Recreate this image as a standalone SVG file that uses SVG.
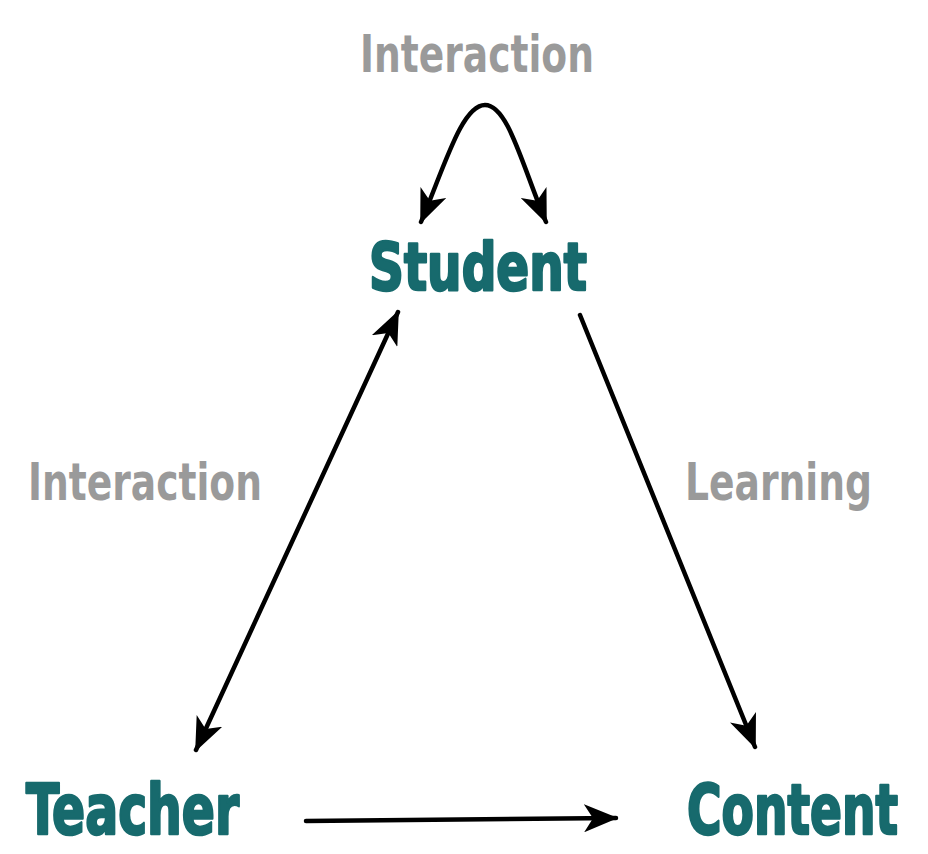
<svg xmlns="http://www.w3.org/2000/svg" width="928" height="854" viewBox="0 0 928 854">
<defs>
<style>
.node{font-family:"Liberation Sans Narrow","DejaVu Sans Condensed","Liberation Sans",sans-serif;font-weight:bold;fill:#176a6d;stroke:#176a6d;stroke-width:2.5;stroke-linejoin:round;}
.lbl{font-family:"Liberation Sans Narrow","DejaVu Sans Condensed","Liberation Sans",sans-serif;font-weight:bold;fill:#9a9a9a;}
.conn{fill:none;stroke:#000;stroke-width:4.5;stroke-linecap:round;}
</style>
<marker id="ah" markerUnits="userSpaceOnUse" viewBox="0 0 34 28" markerWidth="34" markerHeight="28" refX="32" refY="14" orient="auto-start-reverse">
<path d="M0,0 L34,14 L0,28 L9,14 z" fill="#000"/>
</marker>
</defs>
<rect width="928" height="854" fill="#fff"/>
<g id="connectors">
<path class="conn" d="M421,222 C445,165 462,105 485,105 C508,105 522,165 546,222" marker-start="url(#ah)" marker-end="url(#ah)"/>
<line class="conn" x1="398" y1="312" x2="196" y2="750" marker-start="url(#ah)" marker-end="url(#ah)"/>
<line class="conn" x1="580" y1="315" x2="755" y2="747" marker-end="url(#ah)"/>
<line class="conn" x1="306" y1="821" x2="616" y2="818" marker-end="url(#ah)"/>
</g>
<g id="label-top"><text class="lbl" x="360" y="72" font-size="52" textLength="234" lengthAdjust="spacingAndGlyphs">Interaction</text></g>
<g id="label-left"><text class="lbl" x="28" y="500" font-size="52" textLength="234" lengthAdjust="spacingAndGlyphs">Interaction</text></g>
<g id="label-right"><text class="lbl" x="685" y="500" font-size="52" textLength="187" lengthAdjust="spacingAndGlyphs">Learning</text></g>
<g id="student"><text class="node" x="369" y="290" font-size="66" textLength="218" lengthAdjust="spacingAndGlyphs">Student</text></g>
<g id="teacher"><text class="node" x="26" y="834" font-size="70" textLength="213" lengthAdjust="spacingAndGlyphs">Teacher</text></g>
<g id="content"><text class="node" x="687" y="834" font-size="70" textLength="211" lengthAdjust="spacingAndGlyphs">Content</text></g>
</svg>
